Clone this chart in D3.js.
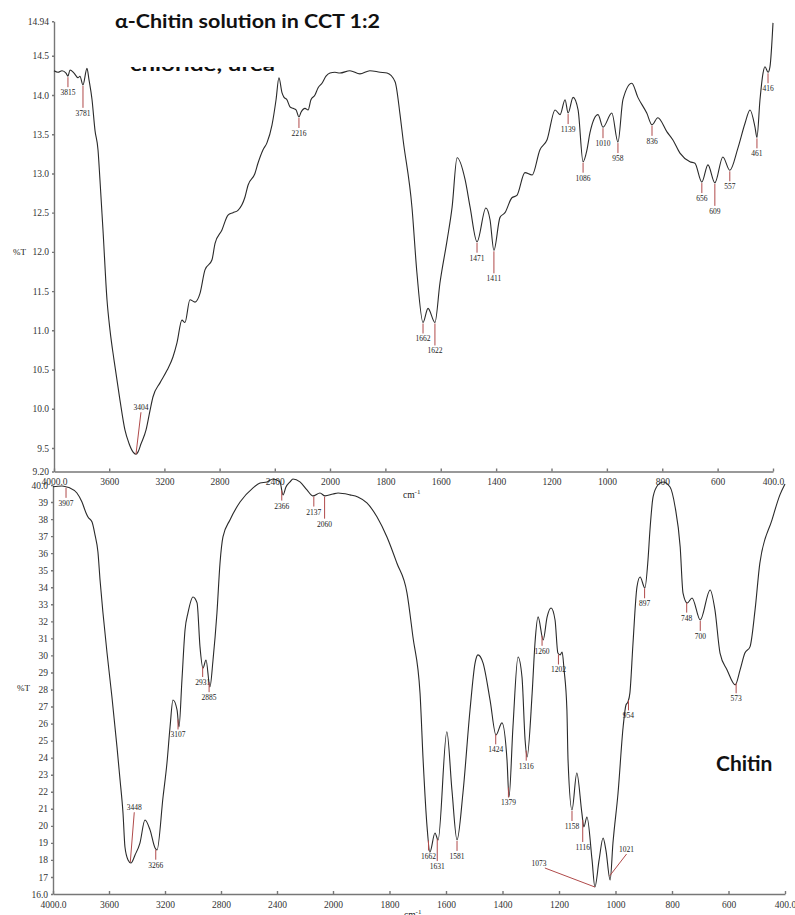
<!DOCTYPE html>
<meta charset="utf-8">

<script src="https://d3js.org/d3.v7.min.js"></script>

<style type="text/css">
body { margin: 0; background: #fff; }
svg text { font-family: "Liberation Serif", "DejaVu Serif", serif; fill: #222; }
.axis path, .axis line { stroke: #777; stroke-width: 1.4; }
.axis text { font-size: 9.5px; font-family: "Liberation Serif", serif; fill: #333; }
.curve { fill: none; stroke: #2a2a2a; stroke-width: 1.1; }
.peak line { stroke: #b04a4a; stroke-width: 1; }
.peak text { font-size: 7.5px; fill: #222; }
</style>

<body>
</body>

<script>

// wavenumber breakpoints (the x scale changes at 2000 cm-1)
var wnBreaks = [4000, 2000, 400];
var xTicks = [4000, 3600, 3200, 2800, 2400, 2000, 1800, 1600, 1400, 1200, 1000, 800, 600, 400];

// top spectrum: alpha-chitin solution in CCT 1:2
var topWn = [4000,3971,3942,3913,3899,3884,3855,3826,3812,3790,3761,3746,3725,3703,3681,3667,3645,3616,3594,3565,
  3522,3486,3457,3428,3406,3391,3370,3333,3304,3283,3232,3181,3138,3109,3073,3051,3015,2978,2942,2906,
  2855,2833,2783,2739,2703,2667,2616,2594,2544,2522,2486,2457,2420,2391,2370,2348,2333,2312,2290,2268,
  2246,2225,2210,2181,2159,2138,2109,2087,2058,2029,2000,1982,1964,1928,1892,1856,1819,1794,1765,1747,
  1736,1704,1686,1664,1646,1621,1603,1577,1559,1541,1512,1494,1469,1437,1422,1408,1386,1368,1343,1325,
  1296,1270,1242,1216,1187,1169,1151,1140,1122,1104,1086,1072,1061,1032,1014,982,960,942,910,888,
  856,837,816,783,762,736,700,682,657,635,610,581,556,527,501,483,465,458,447,436,
  429,418,411,400];
var topT = [14.31,14.29,14.31,14.28,14.24,14.32,14.28,14.22,14.24,14.13,14.34,14.19,13.95,13.55,13.30,12.92,12.28,11.39,11.00,10.62,
  10.11,9.73,9.56,9.45,9.42,9.45,9.55,9.73,9.98,10.15,10.33,10.49,10.66,10.84,11.13,11.10,11.39,11.36,11.47,11.77,
  11.90,12.11,12.28,12.47,12.50,12.53,12.70,12.85,13.00,13.13,13.30,13.39,13.62,13.94,14.22,14.03,13.97,13.94,13.85,13.83,
  13.81,13.72,13.78,13.83,13.81,13.94,14.00,14.09,14.15,14.24,14.28,14.29,14.28,14.31,14.27,14.31,14.29,14.28,14.17,13.75,
  13.43,12.57,11.73,11.10,11.28,11.10,11.60,12.15,12.57,13.20,12.92,12.57,12.13,12.56,12.41,12.02,12.44,12.50,12.69,12.72,
  13.01,12.98,13.30,13.43,13.81,13.75,13.94,13.77,13.97,13.81,13.15,13.30,13.52,13.75,13.59,13.77,13.40,13.94,14.15,13.97,
  13.77,13.62,13.71,13.53,13.43,13.26,13.15,13.13,12.89,13.11,12.88,13.21,13.04,13.32,13.64,13.81,13.59,13.46,13.94,14.28,
  14.36,14.29,14.36,14.92];
var topYTicks = [9.2, 9.5, 10, 10.5, 11, 11.5, 12, 12.5, 13, 13.5, 14, 14.5, 14.94];
// [marker position, printed label]
var topPeaks = [[3899,"3815"],[3790,"3781"],[3406,"3404"],[2225,"2216"],[1664,"1662"],[1621,"1622"],
  [1469,"1471"],[1408,"1411"],[1140,"1139"],[1086,"1086"],[1014,"1010"],[960,"958"],[837,"836"],
  [657,"656"],[610,"609"],[556,"557"],[458,"461"],[418,"416"]];

// bottom spectrum: chitin
var bottomWn = [4000,3936,3900,3879,3829,3793,3764,3750,3721,3700,3679,3664,3643,3614,3579,3543,3521,3500,3486,3464,
  3443,3414,3379,3343,3307,3271,3257,3214,3186,3164,3143,3114,3100,3079,3057,3036,3000,2971,2950,2929,
  2907,2879,2857,2829,2807,2786,2736,2664,2571,2521,2471,2429,2379,2357,2336,2307,2286,2236,2186,2143,
  2093,2057,2000,1982,1940,1912,1880,1844,1809,1774,1738,1717,1692,1681,1667,1657,1639,1628,1597,1579,
  1561,1540,1515,1497,1487,1469,1444,1423,1402,1384,1377,1363,1345,1331,1320,1313,1295,1285,1274,1256,
  1242,1228,1214,1204,1196,1189,1182,1172,1168,1154,1137,1119,1112,1101,1083,1073,1058,1044,1034,1019,
  1009,991,973,963,956,949,938,924,913,896,885,878,867,850,832,807,789,771,761,746,
  729,700,665,648,630,605,576,559,542,524,506,489,446,418,400];
var bottomT = [39.90,39.94,39.88,39.83,39.53,39.00,38.36,38.12,37.83,37.07,36.07,34.43,32.49,30.14,27.56,24.63,22.69,20.75,18.76,18.00,
  17.82,18.29,18.99,20.34,19.76,18.70,18.58,21.69,23.69,25.80,27.38,26.80,25.80,28.56,31.49,32.49,33.43,33.08,30.50,29.26,
  29.73,28.15,29.73,32.49,35.42,36.95,37.95,39.00,39.83,40.12,40.18,40.35,40.18,39.42,39.88,40.18,40.35,40.18,39.71,39.36,
  39.53,39.36,39.47,39.53,39.42,39.30,38.95,38.12,36.95,35.42,33.66,31.08,27.80,23.86,19.93,18.46,19.58,19.17,25.52,22.10,
  19.17,21.93,26.80,29.56,30.03,29.56,27.38,25.33,26.04,23.86,21.69,25.80,29.91,28.73,25.04,24.04,27.80,30.73,32.26,30.91,
  32.26,32.78,32.08,30.14,30.03,30.20,29.15,26.80,23.86,20.93,23.10,20.75,19.93,20.52,18.00,16.41,18.00,19.29,18.58,16.82,
  18.99,21.93,25.80,27.09,27.27,27.80,30.73,34.02,34.60,33.96,35.60,37.36,39.30,40.00,40.18,39.88,38.71,36.36,33.66,33.08,
  33.37,32.08,33.84,32.67,30.14,29.15,28.27,29.15,30.14,30.50,32.67,35.42,37.95,39.42,40.06];
var bottomYTicks = [16,17,18,19,20,21,22,23,24,25,26,27,28,29,30,31,32,33,34,35,36,37,38,39,40];
var bottomPeaks = [[3907,"3907"],[3448,"3448"],[3266,"3266"],[3107,"3107"],[2931,"2931"],[2885,"2885"],
  [2366,"2366"],[2137,"2137"],[2060,"2060"],[1662,"1662"],[1631,"1631"],[1561,"1581"],[1424,"1424"],
  [1379,"1379"],[1316,"1316"],[1260,"1260"],[1202,"1202"],[1154,"1158"],[1116,"1116"],[1073,"1073"],
  [1021,"1021"],[954,"954"],[897,"897"],[748,"748"],[700,"700"],[573,"573"]];

// leaders that do not simply hang below the curve: [dx, dy, label dx]
var leaders = {"3404": [5, -42, 0], "3448": [4, -50, 0], "1073": [-50, -19, -6], "1021": [17, -22, 0]};

var width = 795, height = 915;

var svg = d3.select("body").append("svg")
    .attr("width", width)
    .attr("height", height)
    .style("background", "#fff");

var panels = [
  { wn: topWn, t: topT, peaks: topPeaks, yTicks: topYTicks,
    xRange: [54, 330, 773], yRange: [471.5, 21.3], yDomain: [9.2, 14.94],
    yFormat: function(d) { return (d == 9.2 || d == 14.94) ? d.toFixed(2) : d.toFixed(1); },
    yLabel: [13, 255], cm: [403, 498] },
  { wn: bottomWn, t: bottomT, peaks: bottomPeaks, yTicks: bottomYTicks,
    xRange: [53, 333, 785], yRange: [894, 485], yDomain: [16, 40],
    yFormat: function(d) { return (d == 16 || d == 40) ? d.toFixed(1) : d; },
    yLabel: [17, 691], cm: [404, 918] }
];

panels.forEach(drawPanel);

function interp(wns, ts, w) {
  for (var i = 0; i < wns.length - 1; i++) {
    if (w <= wns[i] && w >= wns[i + 1]) {
      var f = (wns[i] - w) / (wns[i] - wns[i + 1]);
      return ts[i] + f * (ts[i + 1] - ts[i]);
    }
  }
  return ts[ts.length - 1];
}

function drawPanel(p) {
  var x = d3.scaleLinear().domain(wnBreaks).range(p.xRange);
  var y = d3.scaleLinear().domain(p.yDomain).range(p.yRange);

  var g = svg.append("g");

  g.append("g")
      .attr("class", "axis")
      .attr("transform", "translate(" + p.xRange[0] + ",0)")
      .call(d3.axisLeft(y).tickValues(p.yTicks).tickSize(2).tickSizeOuter(0).tickPadding(3).tickFormat(p.yFormat));

  g.append("g")
      .attr("class", "axis")
      .attr("transform", "translate(0," + p.yRange[0] + ")")
      .call(d3.axisBottom(x).tickValues(xTicks).tickSize(-3).tickSizeOuter(0).tickPadding(7)
        .tickFormat(function(d) { return (d == 4000 || d == 400) ? d.toFixed(1) : d; }));

  g.selectAll(".axis .domain").attr("stroke", "#777");

  g.append("text")
      .attr("x", p.yLabel[0])
      .attr("y", p.yLabel[1])
      .style("font-size", "9px")
      .text("%T");

  var cm = g.append("text")
      .attr("x", p.cm[0])
      .attr("y", p.cm[1])
      .style("font-size", "9.5px")
      .text("cm");
  cm.append("tspan").attr("dy", -4).style("font-size", "7px").text("-1");

  var points = p.wn.map(function(w, i) { return [w, p.t[i]]; });

  var line = d3.line()
      .x(function(d) { return x(d[0]); })
      .y(function(d) { return y(d[1]); })
      .curve(d3.curveMonotoneX);

  g.append("path")
      .datum(points)
      .attr("class", "curve")
      .attr("d", line);

  // peak markers
  var prev = null;
  p.peaks.forEach(function(pk) {
    var px = x(pk[0]);
    var py = y(interp(p.wn, p.t, pk[0]));
    var m = g.append("g").attr("class", "peak");
    var lead = leaders[pk[1]];
    if (lead) {
      m.append("line")
          .attr("x1", px).attr("y1", py)
          .attr("x2", px + lead[0]).attr("y2", py + lead[1]);
      m.append("text")
          .attr("x", px + lead[0] + lead[2])
          .attr("y", py + lead[1] - 2)
          .attr("text-anchor", "middle")
          .text(pk[1]);
      prev = null;
      return;
    }
    var len = 11;
    var ly = py + len + 8;
    if (prev && Math.abs(px - prev.x) < 20 && Math.abs(ly - prev.ly) < 10 && !prev.long) {
      len = 23;
      ly = py + len + 8;
    }
    m.append("line")
        .attr("x1", px).attr("y1", py + 1)
        .attr("x2", px).attr("y2", py + len);
    m.append("text")
        .attr("x", px)
        .attr("y", ly)
        .attr("text-anchor", "middle")
        .text(pk[1]);
    prev = { x: px, ly: ly, long: len > 11 };
  });
}

// titles
svg.append("text")
    .attr("x", 115)
    .attr("y", 28)
    .attr("textLength", 265)
    .attr("lengthAdjust", "spacingAndGlyphs")
    .style("font-family", "Lato, 'Open Sans', sans-serif")
    .style("font-weight", "bold")
    .style("font-size", "19px")
    .style("fill", "#111")
    .text("\u03b1-Chitin solution  in CCT 1:2");

// second title line, hidden behind the plot except its lower edge
svg.append("clipPath")
    .attr("id", "cut")
  .append("rect")
    .attr("x", 120).attr("y", 67).attr("width", 170).attr("height", 9);

svg.append("text")
    .attr("clip-path", "url(#cut)")
    .attr("x", 130)
    .attr("y", 71)
    .attr("textLength", 145)
    .attr("lengthAdjust", "spacingAndGlyphs")
    .style("font-family", "Lato, 'Open Sans', sans-serif")
    .style("font-weight", "bold")
    .style("font-size", "19px")
    .style("fill", "#111")
    .text("chloride, urea");

svg.append("text")
    .attr("x", 716)
    .attr("y", 771)
    .style("font-family", "Lato, 'Open Sans', sans-serif")
    .style("font-weight", "bold")
    .style("font-size", "21px")
    .style("fill", "#111")
    .text("Chitin");

</script>
